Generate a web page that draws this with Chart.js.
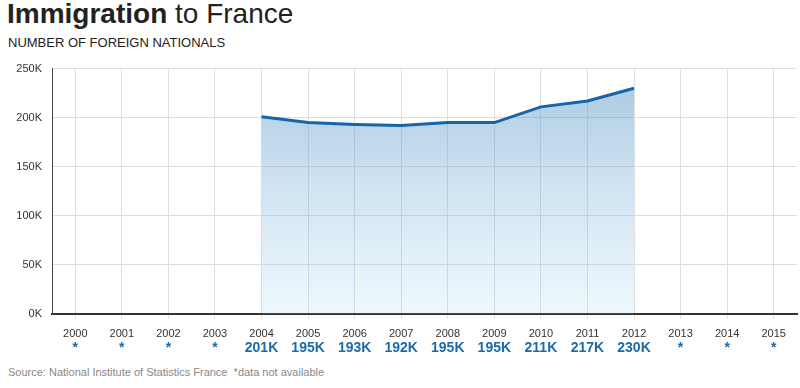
<!DOCTYPE html>
<html>
<head>
<meta charset="utf-8">
<script src="https://cdn.jsdelivr.net/npm/chart.js@4"></script>
<style>
    body { margin: 0; background: #fff; width: 800px; height: 388px; position: relative; overflow: hidden; font-family: "Liberation Sans", Arial, sans-serif; }
    .title { position: absolute; left: 7px; top: -2px; font-size: 28px; color: #222; }
    .title b { font-weight: bold; }
    .subtitle { position: absolute; left: 8px; top: 35px; font-size: 13px; color: #222; }
    .source { position: absolute; left: 8px; top: 366px; font-size: 11px; color: #888; }
    .chart-container { position: absolute; left: 0; top: 52px; width: 800px; height: 305px; }
</style>
</head>
<body>
<div class="title"><b>Immigration</b> to France</div>
<div class="subtitle">NUMBER OF FOREIGN NATIONALS</div>
<div class="chart-container"><canvas id="chart"></canvas></div>
<div class="source">Source: National Institute of Statistics France &nbsp;*data not available</div>
<script>
const years = ['2000', '2001', '2002', '2003', '2004', '2005', '2006', '2007',
    '2008', '2009', '2010', '2011', '2012', '2013', '2014', '2015'];
const immigrants = [null, null, null, null, 201000, 195000, 193000, 192000,
    195000, 195000, 211000, 217000, 230000, null, null, null];
const valueLabels = ['*', '*', '*', '*', '201K', '195K', '193K', '192K',
    '195K', '195K', '211K', '217K', '230K', '*', '*', '*'];

const ctx = document.getElementById('chart').getContext('2d');

new Chart(ctx, {
    type: 'line',
    data: {
        labels: years,
        datasets: [{
            label: 'Foreign nationals',
            data: immigrants,
            borderColor: '#1665a8',
            borderWidth: 3,
            pointRadius: 0,
            tension: 0,
            fill: 'origin',
            backgroundColor: function(context) {
                const area = context.chart.chartArea;
                if (!area) return 'rgba(100,160,210,0.4)';
                const g = context.chart.ctx.createLinearGradient(0, area.top, 0, area.bottom);
                g.addColorStop(0, 'rgba(60,130,185,0.45)');
                g.addColorStop(1, 'rgba(140,200,240,0.15)');
                return g;
            }
        }]
    },
    options: {
        responsive: true,
        maintainAspectRatio: false,
        animation: false,
        layout: { padding: { top: 5, right: 3, left: 0, bottom: 0 } },
        plugins: {
            legend: { display: false },
            tooltip: { enabled: false }
        },
        scales: {
            x: {
                position: 'bottom',
                offset: true,
                afterFit: function(scale) { scale.height = scale.height - 8; },
                grid: { color: '#dedede', offset: false, tickLength: 5, tickColor: '#dedede' },
                border: { color: '#333', width: 2 },
                ticks: { color: '#333', padding: 8, font: { family: 'Liberation Sans', size: 11 }, maxRotation: 0, autoSkip: false }
            },
            x2: {
                type: 'category',
                position: 'bottom',
                labels: valueLabels,
                offset: true,
                grid: { display: false, drawTicks: false },
                border: { display: false },
                ticks: { color: '#1d6aab', padding: 0, font: { family: 'Liberation Sans', size: 14, weight: 'bold' }, maxRotation: 0, autoSkip: false }
            },
            y: {
                min: 0,
                max: 250000,
                afterFit: function(scale) { scale.width = 52; },
                grid: { color: '#dedede', drawTicks: false },
                border: { color: '#444', width: 1 },
                ticks: {
                    stepSize: 50000,
                    padding: 10,
                    color: '#333',
                    font: { family: 'Liberation Sans', size: 11 },
                    callback: function(value) { return (value / 1000) + 'K'; }
                }
            }
        }
    }
});
</script>
</body>
</html>
